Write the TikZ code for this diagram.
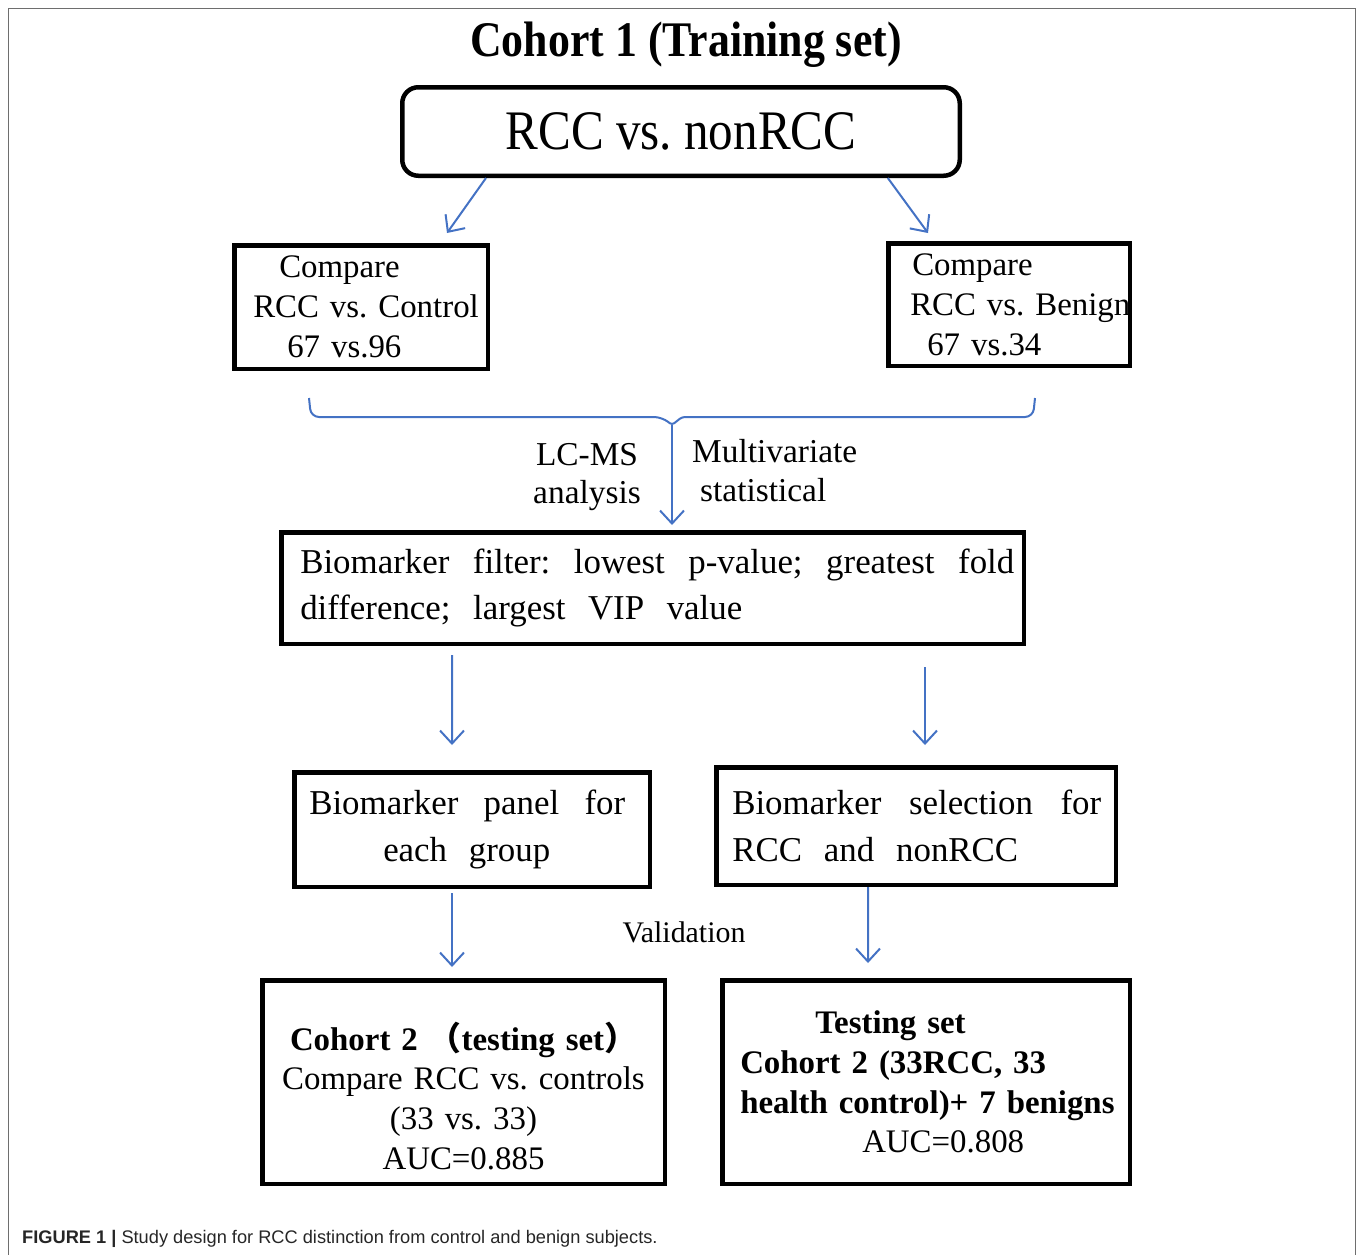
\documentclass[tikz,border=0pt]{standalone}
\usepackage{fontspec}
\setmainfont{Liberation Serif}
\setsansfont{Liberation Sans}
\newfontfamily\narrowfont{Liberation Serif}[FakeStretch=0.88]
\newfontfamily\cjk{Noto Sans CJK SC}
\usetikzlibrary{arrows.meta,calc}
\definecolor{flowblue}{RGB}{68,114,196}
\definecolor{framegray}{RGB}{110,110,110}
\newcommand{\bodysize}{\fontsize{33}{40}\selectfont}
\newcommand{\bigsize}{\fontsize{35}{46}\selectfont}
\frenchspacing

\tikzset{
  box/.style={draw,line width=4.5bp,inner sep=0pt,align=left,font=\bodysize},
  flow/.style={draw=flowblue,line width=2bp,-{Straight Barb[length=13bp,width=24bp]}},
  note/.style={inner sep=0pt,font=\bodysize},
}

\begin{document}
\begin{tikzpicture}
\useasboundingbox (0bp,0bp) rectangle (1358bp,-1255bp);
\draw [framegray,line width=1.5bp] (8.5bp,-1255bp) -- (8.5bp,-8.5bp) -- (1355.5bp,-8.5bp) -- (1355.5bp,-1255bp);

\node (title) at (686bp,-45bp)[inner sep=0pt,font=\fontsize{50}{54}\narrowfont\bfseries] {Cohort 1 (Training set)};
\node (top) at (681bp,-131.5bp)[box,rounded corners=16bp,minimum width=557.5bp,minimum height=88.5bp,align=center,font=\fontsize{56}{60}\narrowfont] {RCC vs. nonRCC};

\node (cmpL) at (361bp,-307bp)[box,text width=253.5bp,minimum height=123.5bp] {\hspace*{45bp}Compare\\\hspace*{19bp}\mbox{RCC vs. Control}\\\hspace*{53bp}67 vs.96};
\node (cmpR) at (1009bp,-304.5bp)[box,text width=241.5bp,minimum height=122.5bp] {\hspace*{24bp}Compare\\\hspace*{22bp}\mbox{RCC vs. Benign}\\\hspace*{39bp}67 vs.34};

\draw [flowblue,line width=2bp] (309bp,-398bp) [rounded corners=8bp] -- (311bp,-417bp) -- (662bp,-417bp) [rounded corners=3bp] -- (672bp,-425bp) -- (682bp,-417bp) [rounded corners=8bp] -- (1033bp,-417bp) -- (1035bp,-398bp);
\coordinate (tip) at (672bp,-425bp);

\node (lcms) at (587bp,-477bp)[note,align=center,font=\fontsize{33.5}{39}\selectfont] {LC-MS\\analysis};
\node (multi) at (692bp,-471bp)[note,anchor=west,align=left,font=\fontsize{33.5}{39}\selectfont] {Multivariate\\\hspace*{8bp}statistical};

\node (filter) at (652.5bp,-588bp)[box,text width=742.5bp,minimum height=111.5bp,font=\bigsize] {\hspace*{19bp}\hbox to 714bp{Biomarker\hfill filter:\hfill lowest\hfill p-value;\hfill greatest\hfill fold}\\\hspace*{19bp}\hbox to 442bp{difference;\hfill largest\hfill VIP\hfill value}};

\node (panel) at (472bp,-829.5bp)[box,text width=355.5bp,minimum height=114.5bp,font=\fontsize{35}{47}\selectfont] {\hspace*{15bp}\hbox to 316bp{Biomarker\hfill panel\hfill for}\\\hspace*{89bp}\hbox to 167bp{each\hfill group}};
\node (select) at (916bp,-826bp)[box,text width=399.5bp,minimum height=117.5bp,font=\fontsize{35}{47}\selectfont] {\hspace*{16bp}\hbox to 369bp{Biomarker\hfill selection\hfill for}\\\hspace*{16bp}\hbox to 286bp{RCC\hfill and\hfill nonRCC}};

\node (valid) at (684bp,-932bp)[note,font=\fontsize{30}{36}\selectfont] {Validation};

\node (coh2) at (463.5bp,-1082bp)[box,text width=402.5bp,minimum height=203.5bp,align=center] {\rule{0pt}{56bp}\textbf{Cohort 2 {\cjk （}testing set{\cjk ）}}\\Compare RCC vs. controls\\(33 vs. 33)\\AUC=0.885};
\node (test) at (926bp,-1082bp)[box,text width=407.5bp,minimum height=203.5bp] {\hspace*{93bp}\textbf{Testing set}\\\hspace*{18bp}\textbf{Cohort 2 (33RCC, 33}\\\hspace*{18bp}\textbf{health control)+ 7 benigns}\\\hspace*{140bp}AUC=0.808};

\draw [flow] ($(top.south west)!0.153!(top.south east)$) -- ($(cmpL.north)+(86bp,10bp)$);
\draw [flow] ($(top.south west)!0.868!(top.south east)$) -- ($(cmpR.north)+(-81bp,8bp)$);
\draw [flow] (tip) -- ($(filter.north)+(19.5bp,5bp)$);
\draw [flow] ($(filter.south)+(-200.5bp,-9bp)$) -- ($(panel.north)+(-20bp,25bp)$);
\draw [flow] ($(filter.south)+(272.5bp,-21bp)$) -- ($(select.north)+(9bp,20bp)$);
\draw [flow] ($(panel.south)+(-20bp,-4bp)$) -- ($(coh2.north)+(-11.5bp,11bp)$);
\draw [flow] ($(select.south)+(-48bp,0bp)$) -- ($(test.north)+(-58bp,15bp)$);

\node (caption) at (22bp,-1243bp)[anchor=base west,inner sep=0pt,text=black!85,font=\sffamily\fontsize{18.3}{22}\selectfont] {\textbf{FIGURE 1 |} Study design for RCC distinction from control and benign subjects.};
\end{tikzpicture}
\end{document}
